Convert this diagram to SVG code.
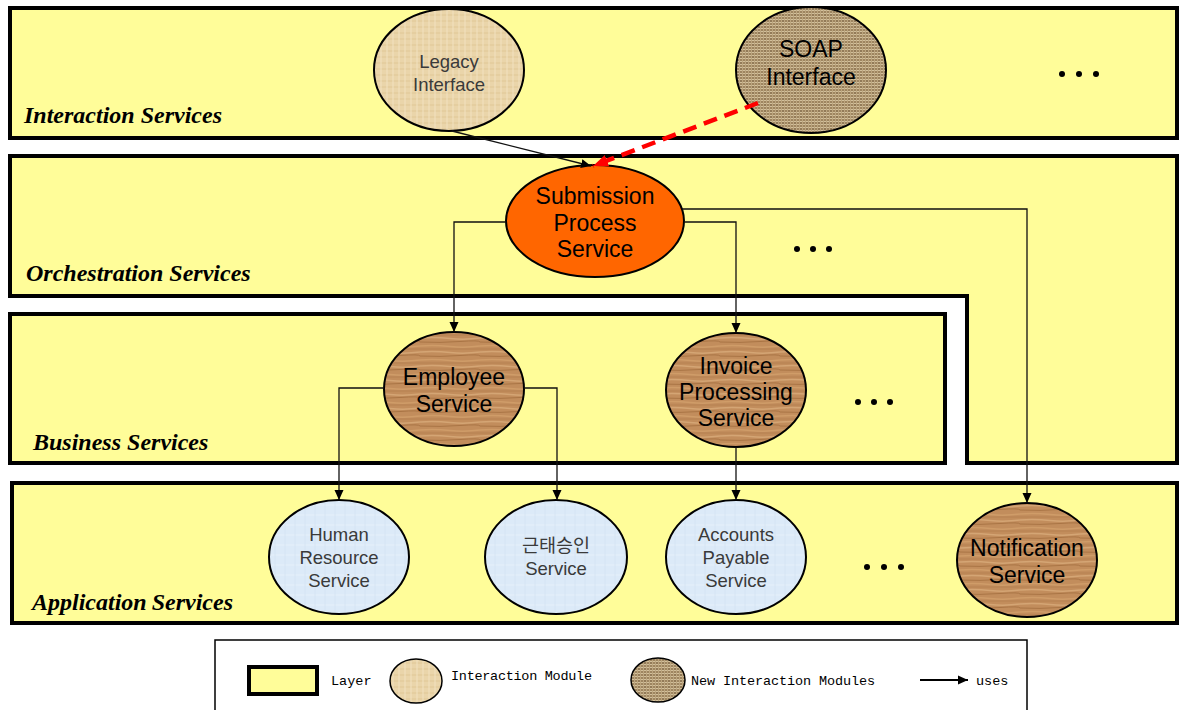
<svg xmlns="http://www.w3.org/2000/svg" width="1180" height="710" viewBox="0 0 1180 710">
  <style>
    .layer { fill: #FFFD99; stroke: #000; stroke-width: 4; }
    .layer-label { font-family: "Liberation Serif", "Times New Roman", serif; font-weight: bold; font-style: italic; font-size: 24px; fill: #000; }
    .node { stroke: #000; stroke-width: 2; }
    .t-big { font-family: "Liberation Sans", Arial, sans-serif; font-size: 23px; fill: #000; text-anchor: middle; }
    .t-mid { font-family: "Liberation Sans", Arial, sans-serif; font-size: 18.5px; fill: #3a3a3a; text-anchor: middle; }
    .t-kr { font-family: "Liberation Sans", "Noto Sans CJK KR", sans-serif; font-size: 18.5px; fill: #3a3a3a; text-anchor: middle; }
    .dots { fill: #000; }
    .uses { fill: none; stroke: #111; stroke-width: 1.3; }
    .legend-text { font-family: "Liberation Mono", "DejaVu Sans Mono", monospace; font-size: 13.5px; fill: #000; }
  </style>
  <defs>
    <!-- parchment texture for interaction modules -->
    <pattern id="parchment" width="12" height="12" patternUnits="userSpaceOnUse">
      <rect width="12" height="12" fill="#EAD5AA"/>
      <path d="M0 3H12M0 9H12" stroke="#E0C796" stroke-width="1"/>
      <path d="M3 0V12M9 0V12" stroke="#F2E2C0" stroke-width="1"/>
    </pattern>
    <!-- woven burlap texture for new interaction modules -->
    <pattern id="burlap" width="6" height="6" patternUnits="userSpaceOnUse">
      <rect width="6" height="6" fill="#9E8560"/>
      <path d="M0 1.5H6M0 4.5H6" stroke="#D2C09C" stroke-width="1"/>
      <path d="M1.5 0V6M4.5 0V6" stroke="#BCA57E" stroke-width="1"/>
      <rect x="2.5" y="2.5" width="1" height="1" fill="#6E5A3E"/>
    </pattern>
    <!-- wood grain texture for business services -->
    <pattern id="wood" width="60" height="14" patternUnits="userSpaceOnUse">
      <rect width="60" height="14" fill="#C28D5C"/>
      <path d="M0 2 Q15 1 30 2.5 T60 2" stroke="#D4A574" stroke-width="1.5" fill="none"/>
      <path d="M0 6 Q20 7 40 5.5 T60 6" stroke="#A97444" stroke-width="1" fill="none"/>
      <path d="M0 10 Q15 9 30 10.5 T60 10" stroke="#CF9C68" stroke-width="1.5" fill="none"/>
      <path d="M0 13 H60" stroke="#B47E4E" stroke-width="0.8"/>
    </pattern>
    <!-- light blue texture for application services -->
    <pattern id="ice" width="10" height="10" patternUnits="userSpaceOnUse">
      <rect width="10" height="10" fill="#DCEAF8"/>
      <path d="M0 5H10" stroke="#E6F0FA" stroke-width="1"/>
      <path d="M5 0V10" stroke="#D3E3F3" stroke-width="0.8"/>
    </pattern>
    <marker id="arrow" viewBox="0 0 10 10" refX="10" refY="5" markerWidth="10" markerHeight="10" markerUnits="userSpaceOnUse" orient="auto">
      <path d="M0 0.5 L10 5 L0 9.5 Z" fill="#000"/>
    </marker>
    <marker id="arrow-red" viewBox="0 0 10 10" refX="10" refY="5" markerWidth="15" markerHeight="15" markerUnits="userSpaceOnUse" orient="auto">
      <path d="M0 1 L10 5 L0 9 Z" fill="#FF0000"/>
    </marker>
  </defs>

  <!-- layers -->
  <g id="layer-interaction">
    <rect class="layer" x="10" y="8" width="1167" height="130"/>
    <text class="layer-label" x="24" y="123">Interaction Services</text>
  </g>
  <g id="layer-orchestration">
    <path class="layer" d="M10 156 H1177 V463 H967 V296 H10 Z"/>
    <text class="layer-label" x="26" y="281">Orchestration Services</text>
  </g>
  <g id="layer-business">
    <rect class="layer" x="10" y="314" width="935" height="149"/>
    <text class="layer-label" x="33" y="450">Business Services</text>
  </g>
  <g id="layer-application">
    <rect class="layer" x="12" y="483" width="1165" height="140"/>
    <text class="layer-label" x="32" y="610" word-spacing="-1">Application Services</text>
  </g>

  <!-- interaction modules -->
  <g id="legacy-interface">
    <ellipse class="node" cx="449" cy="70" rx="75" ry="61" fill="url(#parchment)"/>
    <text class="t-mid" x="449" y="68">Legacy</text>
    <text class="t-mid" x="449" y="91">Interface</text>
  </g>
  <g id="soap-interface">
    <ellipse class="node" cx="811" cy="70" rx="75" ry="63" fill="url(#burlap)"/>
    <text class="t-big" x="811" y="57">SOAP</text>
    <text class="t-big" x="811" y="85">Interface</text>
  </g>
  <g id="interaction-more">
    <circle class="dots" cx="1062" cy="74" r="3"/>
    <circle class="dots" cx="1079" cy="74" r="3"/>
    <circle class="dots" cx="1096" cy="74" r="3"/>
  </g>

  <!-- orchestration -->
  <g id="submission-process-service">
    <ellipse class="node" cx="595" cy="221" rx="89" ry="56" fill="#FF6600"/>
    <text class="t-big" x="595" y="204">Submission</text>
    <text class="t-big" x="595" y="231">Process</text>
    <text class="t-big" x="595" y="257">Service</text>
  </g>
  <g id="orchestration-more">
    <circle class="dots" cx="797" cy="249" r="3"/>
    <circle class="dots" cx="813" cy="249" r="3"/>
    <circle class="dots" cx="829" cy="249" r="3"/>
  </g>

  <!-- business -->
  <g id="employee-service">
    <ellipse class="node" cx="454" cy="389" rx="70" ry="57" fill="url(#wood)"/>
    <text class="t-big" x="454" y="385">Employee</text>
    <text class="t-big" x="454" y="412">Service</text>
  </g>
  <g id="invoice-processing-service">
    <ellipse class="node" cx="736" cy="390" rx="70" ry="57" fill="url(#wood)"/>
    <text class="t-big" x="736" y="374">Invoice</text>
    <text class="t-big" x="736" y="400">Processing</text>
    <text class="t-big" x="736" y="426">Service</text>
  </g>
  <g id="business-more">
    <circle class="dots" cx="858" cy="402" r="3"/>
    <circle class="dots" cx="874" cy="402" r="3"/>
    <circle class="dots" cx="890" cy="402" r="3"/>
  </g>

  <!-- application -->
  <g id="human-resource-service">
    <ellipse class="node" cx="339" cy="557" rx="70" ry="57" fill="url(#ice)"/>
    <text class="t-mid" x="339" y="541">Human</text>
    <text class="t-mid" x="339" y="564">Resource</text>
    <text class="t-mid" x="339" y="587">Service</text>
  </g>
  <g id="attendance-approval-service">
    <ellipse class="node" cx="556" cy="557" rx="71" ry="57" fill="url(#ice)"/>
    <text class="t-kr" x="556" y="552">근태승인</text>
    <text class="t-kr" x="556" y="575">Service</text>
  </g>
  <g id="accounts-payable-service">
    <ellipse class="node" cx="736" cy="557" rx="70" ry="57" fill="url(#ice)"/>
    <text class="t-mid" x="736" y="541">Accounts</text>
    <text class="t-mid" x="736" y="564">Payable</text>
    <text class="t-mid" x="736" y="587">Service</text>
  </g>
  <g id="application-more">
    <circle class="dots" cx="867" cy="567" r="3"/>
    <circle class="dots" cx="884" cy="567" r="3"/>
    <circle class="dots" cx="901" cy="567" r="3"/>
  </g>
  <g id="notification-service">
    <ellipse class="node" cx="1027" cy="560" rx="70" ry="57" fill="url(#wood)"/>
    <text class="t-big" x="1027" y="556">Notification</text>
    <text class="t-big" x="1027" y="583">Service</text>
  </g>

  <!-- connectors (drawn over the nodes so arrowheads stay visible) -->
  <g id="connectors">
    <path class="uses" stroke-width="1.6" d="M452 131 L591 166" marker-end="url(#arrow)"/>
    <path d="M758 103 L593 166" fill="none" stroke="#FF0000" stroke-width="4.5" stroke-dasharray="14 8" marker-end="url(#arrow-red)"/>
    <path class="uses" d="M506 222 H454 V332" marker-end="url(#arrow)"/>
    <path class="uses" d="M684 222 H736 V333" marker-end="url(#arrow)"/>
    <path class="uses" d="M682 209 H1027 V503" marker-end="url(#arrow)"/>
    <path class="uses" d="M384 388 H339 V500" marker-end="url(#arrow)"/>
    <path class="uses" d="M524 388 H557 V500" marker-end="url(#arrow)"/>
    <path class="uses" d="M736 447 V500" marker-end="url(#arrow)"/>
  </g>

  <!-- legend -->
  <g id="legend">
    <rect x="215" y="640" width="812" height="80" fill="#fff" stroke="#000" stroke-width="1.5"/>
    <rect x="249" y="667" width="68" height="27" fill="#FFFD99" stroke="#000" stroke-width="4"/>
    <text class="legend-text" x="331" y="685">Layer</text>
    <ellipse cx="416" cy="681" rx="26" ry="22" fill="url(#parchment)" stroke="#000" stroke-width="1.5"/>
    <text class="legend-text" x="451" y="680" textLength="141">Interaction Module</text>
    <ellipse cx="658" cy="680" rx="27" ry="22" fill="url(#burlap)" stroke="#000" stroke-width="1.5"/>
    <text class="legend-text" x="691" y="685" textLength="184">New Interaction Modules</text>
    <path d="M920 680 H968" fill="none" stroke="#000" stroke-width="2" marker-end="url(#arrow)"/>
    <text class="legend-text" x="976" y="685">uses</text>
  </g>
</svg>
